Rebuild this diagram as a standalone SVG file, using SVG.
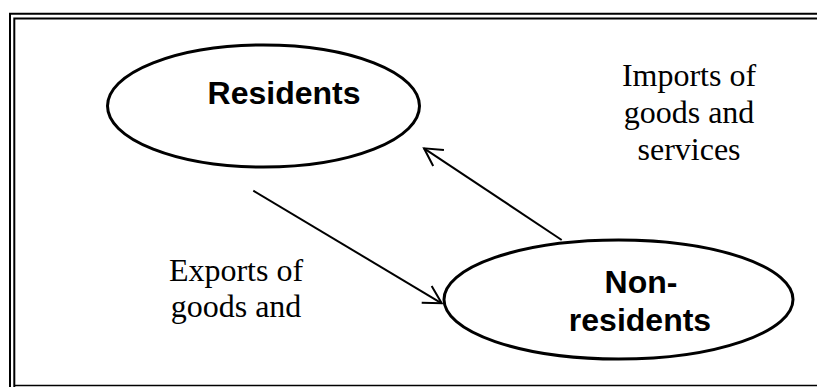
<svg xmlns="http://www.w3.org/2000/svg" width="817" height="387" viewBox="0 0 817 387">
<style>
.frame{fill:none;stroke:#000;stroke-width:2}
.node{fill:#fff;stroke:#000;stroke-width:3}
.lbl{font-family:"Liberation Sans",Arial,sans-serif;font-weight:bold;font-size:32px;fill:#000;text-anchor:middle}
.flow{font-family:"Liberation Serif","Times New Roman",serif;font-size:32px;fill:#000;text-anchor:middle}
.conn{fill:none;stroke:#000;stroke-width:2}
</style>
<defs>
<marker id="arr" markerUnits="userSpaceOnUse" markerWidth="30" markerHeight="30" viewBox="-25 -15 30 30" refX="0" refY="0" orient="auto">
<path d="M-17.5,-9.7 L0,0 L-17.5,9.7" fill="none" stroke="#000" stroke-width="2"/>
</marker>
</defs>
<rect width="817" height="387" fill="#fff"/>
<g id="frame">
<path class="frame" d="M10,387 V13.8 H817"/>
<path class="frame" d="M14.3,387 V18.6 H817"/>
<path d="M14.3,385.5 H817" stroke="#000" stroke-width="1.5"/>
</g>
<g id="connectors">
<line class="conn" x1="253.3" y1="190.7" x2="441.7" y2="303.3" marker-end="url(#arr)"/>
<line class="conn" x1="561.7" y1="240" x2="424" y2="148.3" marker-end="url(#arr)"/>
</g>
<g id="residents">
<ellipse class="node" cx="263.5" cy="106" rx="156" ry="61"/>
<text class="lbl" x="284" y="104">Residents</text>
</g>
<g id="non-residents">
<ellipse class="node" cx="618.5" cy="299.5" rx="174.5" ry="59.5"/>
<text class="lbl" x="641" y="293">Non-</text>
<text class="lbl" x="640" y="331">residents</text>
</g>
<g id="imports-label">
<text class="flow" x="689" y="86">Imports of</text>
<text class="flow" x="689" y="123">goods and</text>
<text class="flow" x="689" y="160">services</text>
</g>
<g id="exports-label">
<text class="flow" x="236" y="281">Exports of</text>
<text class="flow" x="236" y="317">goods and</text>
</g>
</svg>
